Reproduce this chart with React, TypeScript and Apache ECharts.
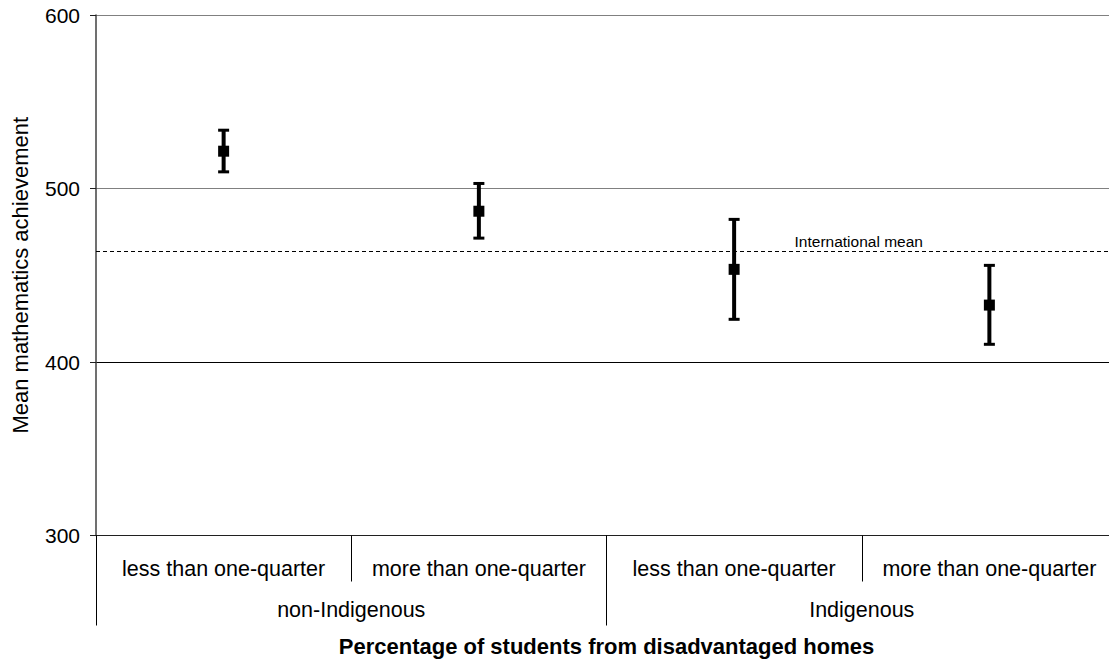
import React, { useEffect, useRef } from "react";
import * as echarts from "echarts";

const categories = [
  "less than one-quarter",
  "more than one-quarter",
  "less than one-quarter",
  "more than one-quarter",
];
const groups = ["non-Indigenous", "Indigenous"];
const means = [521.5, 486.9, 453.4, 432.8];
const lower = [509.6, 471.4, 424.6, 410.2];
const upper = [533.6, 502.9, 482.2, 455.7];
const internationalMean = 464;
const yTicks = { min: 300, max: 600, interval: 100 };

const FONT = "'Liberation Sans', Arial, sans-serif";

export default function App() {
  const ref = useRef<HTMLDivElement>(null);

  useEffect(() => {
    if (!ref.current) return;
    const chart = echarts.init(ref.current, null, { renderer: "svg" });

    const option: any = {
      animation: false,
      backgroundColor: "#ffffff",
      textStyle: { fontFamily: FONT, color: "#000" },
      grid: { left: 96, right: -8, top: 15, bottom: 128.5, containLabel: false, outerBoundsMode: "none" },
      xAxis: [
        {
          type: "category",
          data: categories,
          position: "bottom",
          axisLine: { show: true, lineStyle: { color: "#202020", width: 1 } },
          axisTick: { show: true, length: 46, lineStyle: { color: "#000", width: 1 } },
          axisLabel: { margin: 22, fontSize: 21.5, color: "#000", fontFamily: FONT, interval: 0 },
          splitLine: { show: false },
        },
        {
          type: "category",
          data: groups,
          position: "bottom",
          axisLine: { show: false },
          axisTick: { show: true, length: 90, lineStyle: { color: "#000", width: 1 } },
          axisLabel: { margin: 63, fontSize: 21.5, color: "#000", fontFamily: FONT, interval: 0 },
          splitLine: { show: false },
          name: "Percentage of students from disadvantaged homes",
          nameLocation: "middle",
          nameGap: 100,
          nameTextStyle: { fontSize: 22, fontWeight: "bold", color: "#000", fontFamily: FONT },
        },
      ],
      yAxis: {
        type: "value",
        min: yTicks.min,
        max: yTicks.max,
        interval: yTicks.interval,
        axisLine: { show: true, lineStyle: { color: "#404040", width: 1.5 } },
        axisTick: { show: true, length: 6, lineStyle: { color: "#202020" } },
        axisLabel: { margin: 16, fontSize: 21, color: "#000", fontFamily: FONT },
        splitLine: {
          show: true,
          lineStyle: { color: ["#000", "#000", "#808080", "#808080"], width: 1 },
        },
        name: "Mean mathematics achievement",
        nameLocation: "middle",
        nameGap: 65,
        nameRotate: 90,
        nameTextStyle: { fontSize: 22, color: "#000", fontFamily: FONT },
      },
      series: [
        {
          type: "custom",
          xAxisIndex: 0,
          data: categories.map((_, i) => [i, lower[i], upper[i]]),
          renderItem: (params: any, api: any) => {
            const lo = api.coord([api.value(0), api.value(1)]);
            const hi = api.coord([api.value(0), api.value(2)]);
            const half = 5.5;
            const style = { stroke: "#000", lineWidth: 4 };
            const capStyle = { stroke: "#000", lineWidth: 3 };
            return {
              type: "group",
              children: [
                { type: "line", shape: { x1: lo[0], y1: lo[1], x2: hi[0], y2: hi[1] }, style },
                { type: "line", shape: { x1: hi[0] - half, y1: hi[1], x2: hi[0] + half, y2: hi[1] }, style: capStyle },
                { type: "line", shape: { x1: lo[0] - half, y1: lo[1], x2: lo[0] + half, y2: lo[1] }, style: capStyle },
              ],
            };
          },
          z: 3,
        },
        {
          type: "scatter",
          xAxisIndex: 0,
          symbol: "rect",
          symbolSize: 11,
          itemStyle: { color: "#000", opacity: 1 },
          data: means.map((m, i) => [i, m]),
          z: 4,
          markLine: {
            silent: true,
            symbol: "none",
            label: { show: false },
            lineStyle: { color: "#000", type: [4, 3], width: 1 },
            data: [{ yAxis: internationalMean }],
          },
        },
      ],
    };

    chart.setOption(option);

    const x2 = chart.convertToPixel({ xAxisIndex: 0 }, 2) as number;
    const x3 = chart.convertToPixel({ xAxisIndex: 0 }, 3) as number;
    const yMean = chart.convertToPixel({ yAxisIndex: 0 }, internationalMean) as number;
    chart.setOption({
      graphic: [
        {
          type: "text",
          x: (x2 + x3) / 2 - 3,
          y: yMean - 1,
          style: {
            text: "International mean",
            fontSize: 15.5,
            fontFamily: FONT,
            fill: "#000",
            align: "center",
            verticalAlign: "bottom",
          },
          z: 10,
        },
      ],
    });

    return () => chart.dispose();
  }, []);

  return (
    <div
      ref={ref}
      style={{ position: "fixed", left: 0, top: 0, width: 1109, height: 664, background: "#fff", overflow: "hidden" }}
    />
  );
}
